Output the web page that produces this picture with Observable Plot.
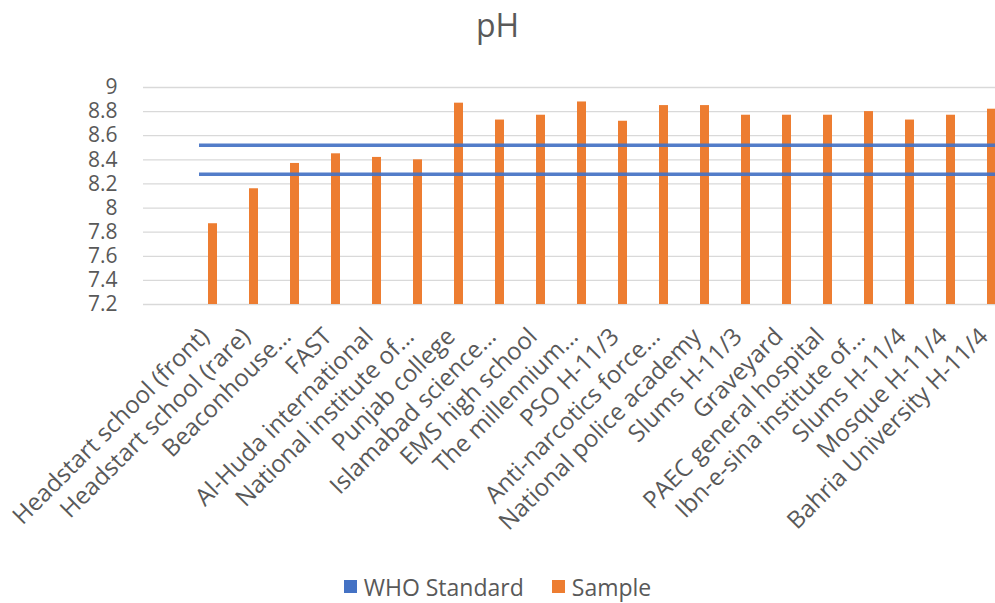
<!DOCTYPE html>
<html>
<head>
<meta charset="utf-8">
<script src="https://cdn.jsdelivr.net/npm/d3@7"></script>
<script src="https://cdn.jsdelivr.net/npm/@observablehq/plot@0.6"></script>
<style>
  html, body { margin: 0; padding: 0; background: #fff; overflow: hidden; width: 995px; height: 603px; }
  body { font-family: "Open Sans", sans-serif; color: #595959; }
  #title { height: 50px; line-height: 50px; font-size: 32px; text-align: center; width: 995px; }
  #chart { height: 510px; width: 995px; overflow: hidden; }
  #chart svg { max-width: none !important; width: 1070px; height: 510px; display: block; }
  #legend { height: 43px; width: 995px; display: flex; justify-content: center; align-items: center; font-size: 23px; padding-top: 10px; box-sizing: border-box; }
  .item { display: flex; align-items: center; margin: 0 14px; }
  .sw { width: 13px; height: 13px; margin-right: 7px; display: inline-block; }
</style>
</head>
<body>
<div id="title">pH</div>
<div id="chart"></div>
<div id="legend"></div>
<script>
const categories = [
  "Headstart school (front)",
  "Headstart school (rare)",
  "Beaconhouse…",
  "FAST",
  "Al-Huda international",
  "National institute of…",
  "Punjab college",
  "Islamabad science…",
  "EMS high school",
  "The millennium…",
  "PSO H-11/3",
  "Anti-narcotics force…",
  "National police academy",
  "Slums H-11/3",
  "Graveyard",
  "PAEC general hospital",
  "Ibn-e-sina institute of…",
  "Slums H-11/4",
  "Mosque H-11/4",
  "Bahria University H-11/4"
];
const sampleValues = [7.87, 8.16, 8.37, 8.45, 8.42, 8.40, 8.87, 8.73, 8.77, 8.88, 8.72, 8.85, 8.85, 8.77, 8.77, 8.77, 8.80, 8.73, 8.77, 8.82];
const whoStandard = [8.52, 8.28];
const yTicks = [7.2, 7.4, 7.6, 7.8, 8, 8.2, 8.4, 8.6, 8.8, 9];
const seriesNames = ["WHO Standard", "Sample"];
const seriesColors = ["#4472C4", "#ED7D31"];

const data = categories.map((c, i) => ({category: c, value: sampleValues[i]}));
const yMin = yTicks[0], yMax = yTicks[yTicks.length - 1];
const firstCat = categories[0], lastCat = categories[categories.length - 1];

const chart = Plot.plot({
  width: 1070,
  height: 510,
  marginLeft: 143,
  marginRight: 9,
  marginTop: 37,
  marginBottom: 256,
  style: {fontFamily: "Open Sans, sans-serif", fontSize: "23px", color: "#595959", background: "#fff", overflow: "visible"},
  x: {domain: categories, paddingInner: 0.78, paddingOuter: 1.54, label: null},
  y: {domain: [yMin, yMax], label: null},
  marks: [
    Plot.ruleY(yTicks, {stroke: "#d9d9d9", strokeWidth: 1.3}),
    Plot.barY(data, {x: "category", y1: yMin, y2: "value", fill: seriesColors[1]}),
    Plot.ruleY(whoStandard, {x1: () => firstCat, x2: () => lastCat, y: d => d, insetLeft: -9, insetRight: -40, stroke: seriesColors[0], strokeWidth: 3.5, strokeOpacity: 0.92}),
    Plot.axisY({ticks: yTicks, tickSize: 0, tickPadding: 26, tickFormat: d => String(+d.toFixed(1)), fontSize: 21}),
    Plot.axisX({tickRotate: -45, tickSize: 0, tickPadding: 28, dx: -8, fontSize: 24})
  ]
});
document.getElementById("chart").appendChild(chart);

const legend = document.getElementById("legend");
seriesNames.forEach((name, i) => {
  const item = document.createElement("div");
  item.className = "item";
  const sw = document.createElement("span");
  sw.className = "sw";
  sw.style.background = seriesColors[i];
  item.appendChild(sw);
  item.appendChild(document.createTextNode(name));
  legend.appendChild(item);
});
</script>
</body>
</html>
